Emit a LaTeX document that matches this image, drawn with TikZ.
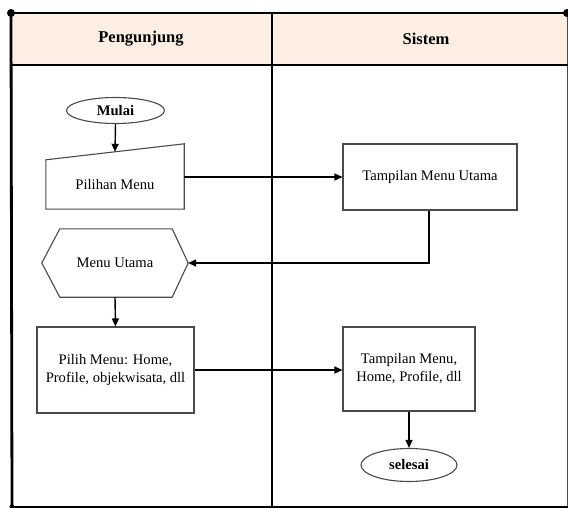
\documentclass[tikz,border=0pt]{standalone}
\usepackage{fontspec}
\setmainfont{Liberation Serif}
\usetikzlibrary{shapes.geometric,arrows.meta}
\definecolor{headfill}{HTML}{FCEEE2}
\definecolor{boxline}{HTML}{4A4A4A}
\begin{document}
\begin{tikzpicture}[x=1pt,y=-1pt,
  every node/.style={inner sep=0pt,font=\fontsize{14.6}{18}\selectfont},
  box/.style={draw=boxline,line width=1.1pt,rectangle,align=center},
  term/.style={draw=boxline,line width=1.1pt,ellipse,font=\fontsize{14.6}{18}\selectfont\bfseries},
  shapeline/.style={draw=boxline,line width=1.1pt},
  flow/.style={draw=black,line width=1.4pt,-{Triangle[length=8pt,width=7pt]}},
  frame/.style={draw=black,line width=2.8pt},
  head/.style={font=\fontsize{16.5}{20}\selectfont\bfseries}]
\useasboundingbox (0,0) rectangle (568,508);
% header band
\fill[headfill] (12,13) rectangle (567,65);
\coordinate (tl) at (11,13);
\coordinate (tr) at (567,13);
\coordinate (bl) at (12,507);
\coordinate (br) at (568,507);
\coordinate (rb) at (567,508);
\coordinate (mt) at (272,13);
\coordinate (mb) at (272,508);
\coordinate (hl) at (12,65);
\coordinate (hr) at (568,65);
\draw[draw=boxline,line width=0.9pt] (tr) -- (rb);
\draw[frame] (tl) -- (tr);
\fill (tl) circle (4);
\fill (tr) circle (4);
\draw[frame] (tl) -- (bl);
\fill (bl) circle (2.5);
\draw[frame] (mt) -- (mb);
\draw[black,line width=2.4pt] (hl) -- (hr);
\draw[black,line width=1.6pt] (bl) -- (br);
\node[head] (h1) at (141,39) {Pengunjung};
\node[head] (h2) at (426,39) {Sistem};
% nodes
\node[term,minimum width=98,minimum height=26] (mulai) at (115.5,110.5) {Mulai};
\node[minimum width=138,minimum height=49] (pi) at (115,184.5) {Pilihan Menu};
\draw[shapeline] (pi.south west) -- (pi.south east) -- ([yshift=16pt]pi.north east) -- (pi.north west) -- cycle;
\node[box,minimum width=174,minimum height=66] (tmu) at (430,177) {Tampilan Menu Utama};
\node[minimum width=146,minimum height=68] (mu) at (115,263) {Menu Utama};
\draw[shapeline] (mu.west) -- ([xshift=18pt]mu.north west) -- ([xshift=-16pt]mu.north east) -- (mu.east) -- ([xshift=-16pt]mu.south east) -- ([xshift=18pt]mu.south west) -- cycle;
\node[box,minimum width=157,minimum height=86] (pm) at (115.5,370) {Pilih Menu: Home,\\Profile, objekwisata, dll};
\node[box,minimum width=132,minimum height=84] (tmh) at (409,369) {Tampilan Menu,\\Home, Profile, dll};
\node[term,minimum width=96,minimum height=33] (sel) at (409,465) {selesai};
% connectors
\draw[flow] (mulai.south) -- ([yshift=8pt]pi.north);
\draw[flow] (pi.east |- tmu.west) -- (tmu.west);
\draw[flow] ([xshift=-1pt]tmu.south) |- (mu.east);
\draw[flow] (mu.south) -- (pm.north);
\draw[flow] (pm.east) -- (tmh.west |- pm.east);
\draw[flow] (tmh.south) -- (sel.north);
\end{tikzpicture}
\end{document}
